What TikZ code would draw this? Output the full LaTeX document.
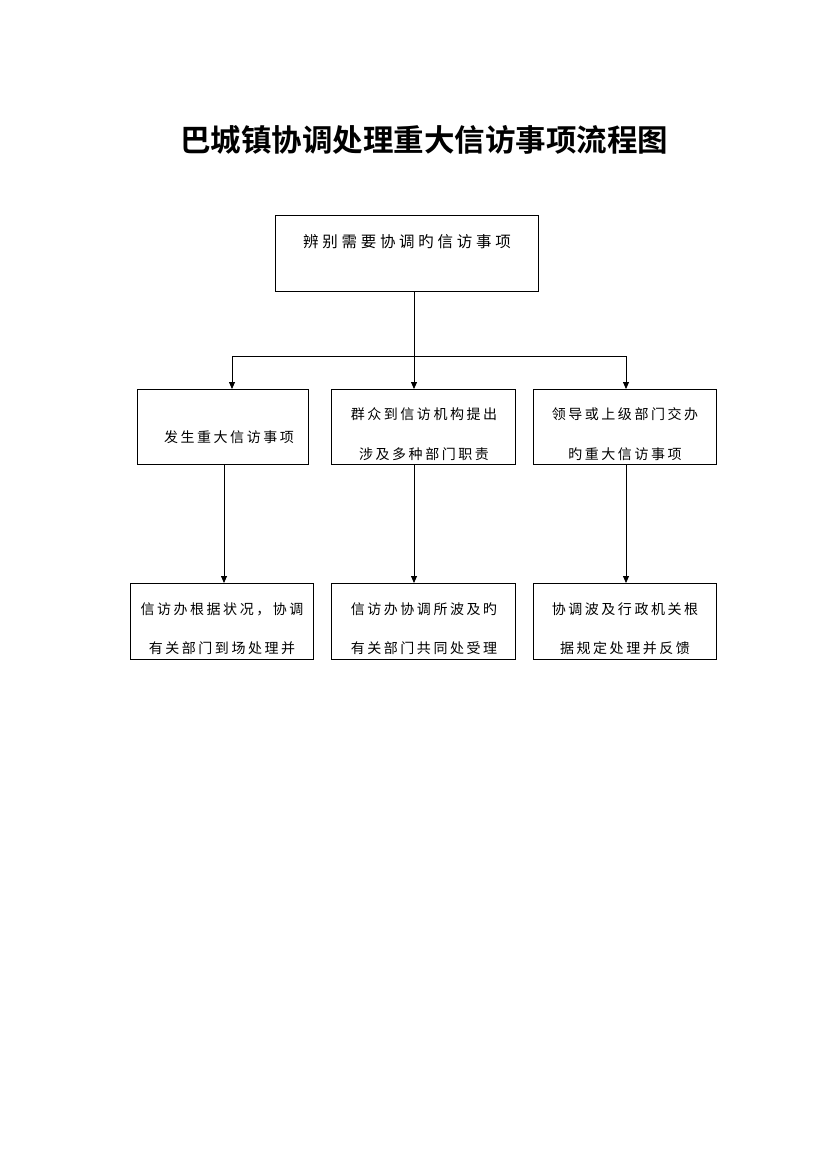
\documentclass[tikz,border=0pt]{standalone}
\usepackage{fontspec}
\newfontfamily\cjk{Noto Sans CJK SC}[LetterSpace=18]
\newfontfamily\cjktop{Noto Sans CJK SC}[LetterSpace=24]
\newfontfamily\cjktitle{Noto Sans CJK SC Bold}
\usetikzlibrary{arrows.meta}
\begin{document}
\begin{tikzpicture}[x=1pt,y=-1pt,
  boxst/.style={draw,line width=0.8pt,inner sep=0pt},
  txt/.style={font=\cjk\fontsize{14}{16}\selectfont,inner sep=0pt,anchor=center},
  arr/.style={-{Triangle[length=7pt,width=6pt]},line width=0.8pt},
  ln/.style={line width=0.8pt}]
\useasboundingbox (0,0) rectangle (826,1169);
\node[font=\cjktitle\fontsize{30.5}{34}\selectfont,inner sep=0pt] (title) at (424,140) {巴城镇协调处理重大信访事项流程图};
% boxes
\draw[boxst] (275,215) rectangle (538,291);
\coordinate (topb) at (414,291);
\node[txt,font=\cjktop\fontsize{15.5}{17}\selectfont] (t0) at (407,242) {辨别需要协调旳信访事项};
\draw[boxst] (137,389) rectangle (308,464);
\draw[boxst] (331,389) rectangle (515,464);
\draw[boxst] (533,389) rectangle (716,464);
\draw[boxst] (130,583) rectangle (313,659);
\draw[boxst] (331,583) rectangle (515,659);
\draw[boxst] (533,583) rectangle (716,659);
\node[txt] (a1) at (229,437) {发生重大信访事项};
\node[txt] (b1) at (424,414) {群众到信访机构提出};
\node[txt] (b2) at (424,454) {涉及多种部门职责};
\node[txt] (c1) at (625,414) {领导或上级部门交办};
\node[txt] (c2) at (625,454) {旳重大信访事项};
\node[txt] (d1) at (222,609) {信访办根据状况，协调};
\node[txt] (d2) at (222,648) {有关部门到场处理并};
\node[txt] (e1) at (424,609) {信访办协调所波及旳};
\node[txt] (e2) at (424,648) {有关部门共同处受理};
\node[txt] (f1) at (625,609) {协调波及行政机关根};
\node[txt] (f2) at (625,648) {据规定处理并反馈};
% anchor coordinates
\coordinate (j) at (414,356);
\coordinate (jl) at (232,356);
\coordinate (jr) at (626,356);
\coordinate (la) at (232,389);
\coordinate (ma) at (414,389);
\coordinate (ra) at (626,389);
\coordinate (lb) at (224,464);
\coordinate (mb) at (414,464);
\coordinate (rb) at (626,464);
\coordinate (lc) at (224,583);
\coordinate (mc) at (414,583);
\coordinate (rc) at (626,583);
% connectors
\draw[ln] (topb) -- (j);
\draw[ln] (jl) -- (jr);
\draw[arr] (jl) -- (la);
\draw[arr] (j) -- (ma);
\draw[arr] (jr) -- (ra);
\draw[arr] (lb) -- (lc);
\draw[arr] (mb) -- (mc);
\draw[arr] (rb) -- (rc);
\end{tikzpicture}
\end{document}
